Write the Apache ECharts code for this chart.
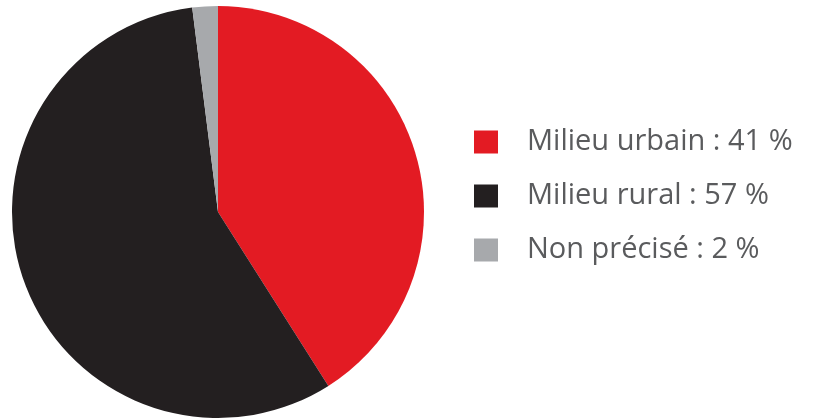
<!DOCTYPE html>
<html><head><meta charset="utf-8">
<script src="https://cdn.jsdelivr.net/npm/echarts@6/dist/echarts.min.js"></script>
<style>html,body{margin:0;padding:0;background:#fff}#c{width:813px;height:419px}</style>
</head><body><div id="c"></div>
<script>
const categories = ['Milieu urbain', 'Milieu rural', 'Non précisé'];
const values = [41, 57, 2];
const colors = ['#E31B23', '#231F20', '#A7A9AC'];

const chart = echarts.init(document.getElementById('c'), null, {renderer: 'canvas'});
chart.setOption({
  animation: false,
  color: colors,
  legend: {
    orient: 'vertical',
    left: 469,
    top: 122,
    itemWidth: 24,
    itemHeight: 23,
    itemGap: 24,
    icon: 'rect',
    data: categories,
    formatter: function (name) {
      const i = categories.indexOf(name);
      return name + ' : ' + values[i] + ' %';
    },
    textStyle: {
      fontFamily: 'Open Sans',
      fontSize: 29,
      fontWeight: 400,
      color: '#5A5B5D',
      lineHeight: 30,
      padding: [0, 0, 0, 24]
    },
    selectedMode: false
  },
  series: [{
    type: 'pie',
    center: [218, 212],
    radius: [0, 206],
    startAngle: 90,
    clockwise: true,
    label: {show: false},
    labelLine: {show: false},
    emphasis: {disabled: true},
    itemStyle: {borderWidth: 0},
    data: categories.map((n, i) => ({name: n, value: values[i]}))
  }]
});
</script></body></html>
